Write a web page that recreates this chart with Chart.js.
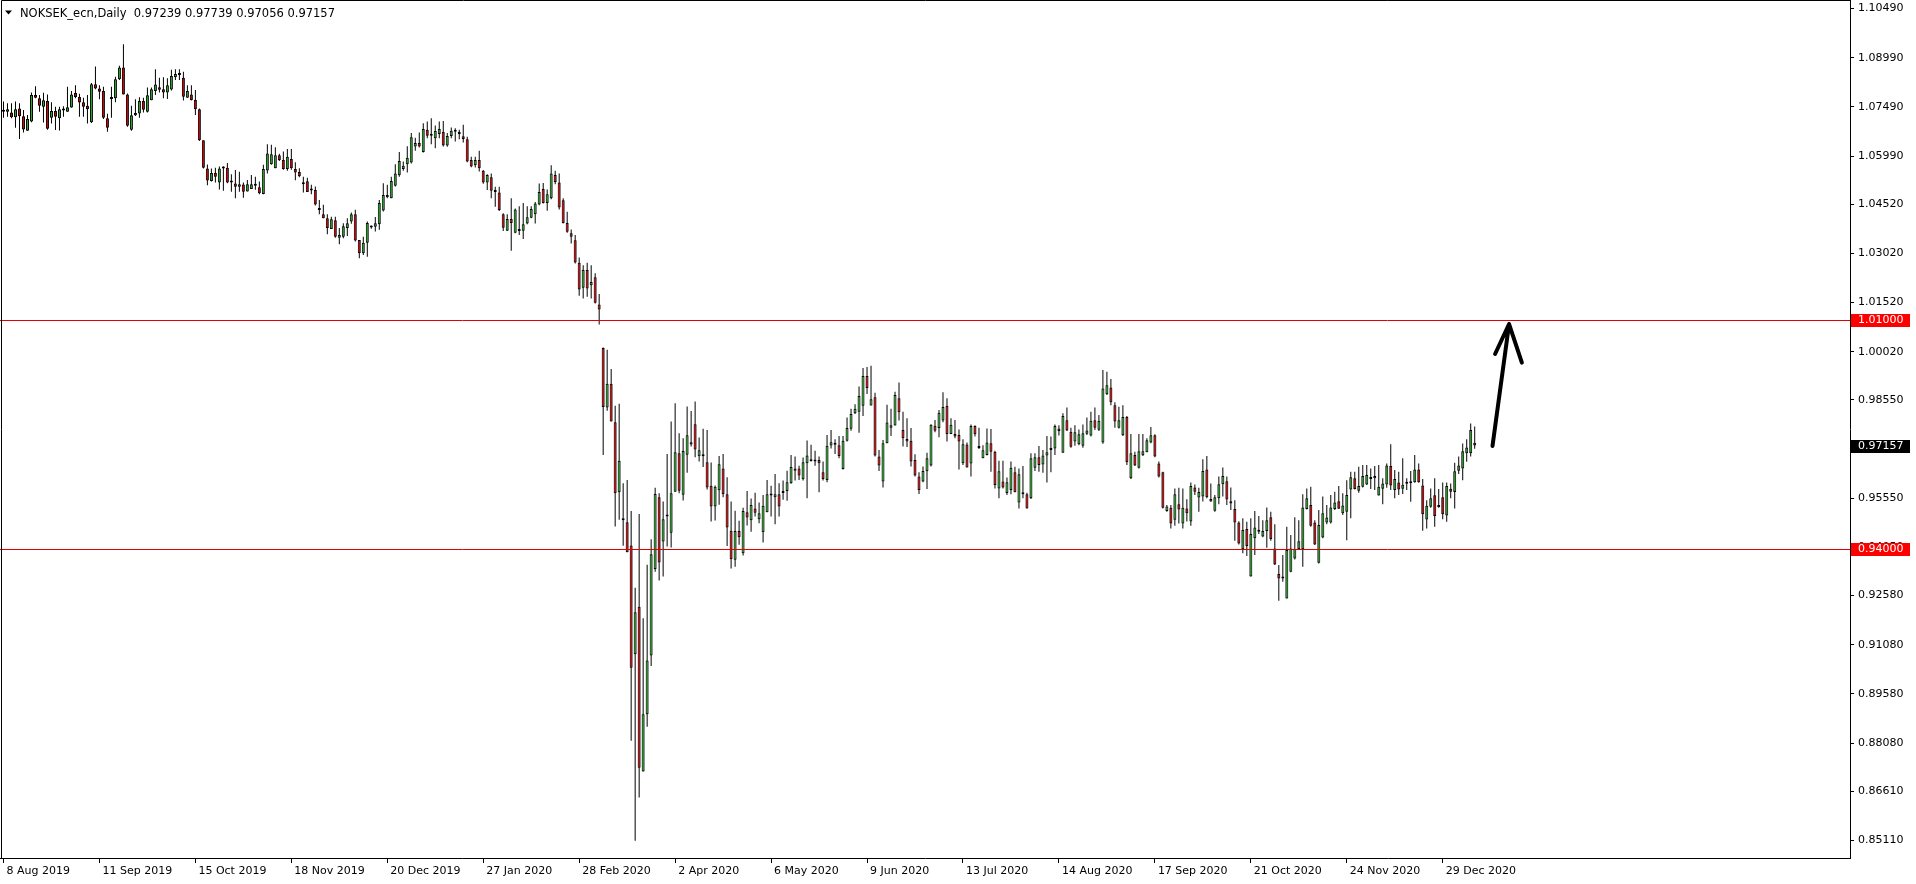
<!DOCTYPE html>
<html>
<head>
<meta charset="utf-8">
<script src="https://cdn.jsdelivr.net/npm/chart.js@4.4.0/dist/chart.umd.min.js"></script>
<style>
html,body{margin:0;padding:0;background:#fff;overflow:hidden;}
canvas{display:block;}
</style>
</head>
<body>
<canvas id="c" width="1916" height="884"></canvas>
<script>
// ---- data (daily NOKSEK_ecn candles, index 0 = 8 Aug 2019) ----
const opens = [
1.0734,1.0734,1.0732,1.0717,1.0744,1.0720,1.0676,1.0704,1.0785,1.0775,
1.0749,1.0767,1.0716,1.0736,1.0714,1.0742,1.0734,1.0747,1.0791,1.0779,
1.0763,1.0752,1.0702,1.0818,1.0805,1.0797,1.0714,1.0773,1.0775,1.0833,
1.0869,1.0787,1.0679,1.0723,1.0729,1.0767,1.0734,1.0769,1.0797,1.0809,
1.0803,1.0793,1.0802,1.0839,1.0848,1.0838,1.0777,1.0787,1.0770,1.0742,
1.0647,1.0561,1.0523,1.0547,1.0518,1.0561,1.0563,1.0520,1.0515,1.0505,
1.0512,1.0491,1.0498,1.0511,1.0504,1.0483,1.0555,1.0574,1.0562,1.0601,
1.0587,1.0559,1.0590,1.0559,1.0550,1.0513,1.0522,1.0499,1.0495,1.0436,
1.0421,1.0409,1.0376,1.0403,1.0350,1.0353,1.0379,1.0399,1.0421,1.0343,
1.0302,1.0334,1.0384,1.0383,1.0391,1.0433,1.0480,1.0470,1.0508,1.0540,
1.0559,1.0574,1.0579,1.0628,1.0639,1.0611,1.0679,1.0667,1.0653,1.0666,
1.0672,1.0631,1.0660,1.0676,1.0668,1.0659,1.0650,1.0587,1.0571,1.0587,
1.0554,1.0518,1.0534,1.0491,1.0488,1.0421,1.0371,1.0407,1.0365,1.0372,
1.0371,1.0393,1.0411,1.0421,1.0451,1.0498,1.0456,1.0470,1.0541,1.0518,
1.0464,1.0395,1.0363,1.0342,1.0273,1.0197,1.0251,1.0205,1.0229,1.0146,
1.0013,0.9832,0.9904,0.9787,0.9573,0.9491,0.9482,0.9411,0.9079,0.9224,
0.8721,0.8896,0.9075,0.9339,0.9558,0.9423,0.9499,0.9450,0.9575,0.9692,
0.9566,0.9688,0.9719,0.9781,0.9683,0.9683,0.9665,0.9593,0.9530,0.9579,
0.9646,0.9567,0.9456,0.9367,0.9455,0.9387,0.9512,0.9488,0.9524,0.9491,
0.9451,0.9512,0.9565,0.9558,0.9567,0.9571,0.9577,0.9601,0.9639,0.9646,
0.9613,0.9662,0.9668,0.9669,0.9672,0.9634,0.9611,0.9716,0.9720,0.9717,
0.9644,0.9730,0.9767,0.9814,0.9819,0.9837,0.9928,0.9838,0.9863,0.9682,
0.9606,0.9723,0.9770,0.9777,0.9860,0.9763,0.9736,0.9730,0.9672,0.9621,
0.9606,0.9637,0.9655,0.9776,0.9769,0.9792,0.9837,0.9751,0.9751,0.9748,
0.9662,0.9719,0.9661,0.9775,0.9710,0.9677,0.9687,0.9723,0.9697,0.9585,
0.9606,0.9571,0.9580,0.9634,0.9542,0.9570,0.9567,0.9555,0.9648,0.9680,
0.9658,0.9685,0.9702,0.9707,0.9768,0.9694,0.9793,0.9758,0.9728,0.9720,
0.9715,0.9752,0.9746,0.9793,0.9764,0.9725,0.9872,0.9893,0.9839,0.9770,
0.9747,0.9803,0.9616,0.9687,0.9648,0.9686,0.9695,0.9725,0.9747,0.9661,
0.9634,0.9516,0.9526,0.9489,0.9537,0.9478,0.9524,0.9484,0.9588,0.9557,
0.9560,0.9643,0.9553,0.9517,0.9555,0.9598,0.9607,0.9546,0.9522,0.9481,
0.9399,0.9461,0.9316,0.9433,0.9456,0.9438,0.9455,0.9497,0.9402,0.9324,
0.9310,0.9249,0.9331,0.9371,0.9400,0.9399,0.9522,0.9534,0.9481,0.9358,
0.9435,0.9481,0.9481,0.9522,0.9546,0.9509,0.9514,0.9582,0.9616,0.9578,
0.9590,0.9597,0.9614,0.9616,0.9563,0.9584,0.9597,0.9653,0.9580,0.9603,
0.9584,0.9599,0.9601,0.9604,0.9643,0.9594,0.9490,0.9529,0.9564,0.9528,
0.9558,0.9502,0.9584,0.9574,0.9639,0.9646,0.9692,0.9692,0.97239
];
const highs = [
1.0765,1.0760,1.0760,1.0765,1.0760,1.0739,1.0724,1.0793,1.0812,1.0785,
1.0792,1.0787,1.0763,1.0749,1.0749,1.0751,1.0810,1.0797,1.0815,1.0789,
1.0777,1.0785,1.0822,1.0872,1.0815,1.0810,1.0728,1.0810,1.0841,1.0874,
1.0940,1.0790,1.0752,1.0772,1.0778,1.0777,1.0808,1.0808,1.0864,1.0838,
1.0839,1.0836,1.0862,1.0864,1.0864,1.0856,1.0815,1.0815,1.0800,1.0744,
1.0647,1.0573,1.0561,1.0563,1.0567,1.0568,1.0578,1.0543,1.0556,1.0551,
1.0518,1.0526,1.0541,1.0536,1.0521,1.0572,1.0635,1.0633,1.0626,1.0606,
1.0613,1.0620,1.0620,1.0580,1.0562,1.0536,1.0533,1.0511,1.0506,1.0465,
1.0450,1.0421,1.0414,1.0414,1.0379,1.0394,1.0409,1.0427,1.0435,1.0343,
1.0353,1.0399,1.0387,1.0413,1.0465,1.0516,1.0511,1.0536,1.0574,1.0611,
1.0582,1.0629,1.0669,1.0655,1.0671,1.0699,1.0704,1.0714,1.0692,1.0704,
1.0706,1.0669,1.0686,1.0684,1.0679,1.0694,1.0658,1.0597,1.0597,1.0615,
1.0556,1.0543,1.0546,1.0505,1.0505,1.0424,1.0421,1.0470,1.0439,1.0446,
1.0456,1.0446,1.0446,1.0459,1.0515,1.0517,1.0497,1.0571,1.0554,1.0546,
1.0470,1.0429,1.0375,1.0358,1.0289,1.0266,1.0273,1.0266,1.0241,1.0178,
1.0015,1.0008,0.9949,0.9837,0.9843,0.9601,0.9611,0.9516,0.9282,0.9507,
0.9189,0.9352,0.9430,0.9587,0.9570,0.9545,0.9690,0.9789,0.9845,0.9753,
0.9738,0.9835,0.9821,0.9850,0.9740,0.9767,0.9763,0.9664,0.9594,0.9684,
0.9690,0.9619,0.9545,0.9517,0.9486,0.9526,0.9577,0.9554,0.9572,0.9542,
0.9565,0.9611,0.9593,0.9629,0.9601,0.9609,0.9639,0.9687,0.9682,0.9654,
0.9679,0.9731,0.9718,0.9700,0.9682,0.9667,0.9748,0.9763,0.9735,0.9745,
0.9745,0.9801,0.9828,0.9842,0.9896,0.9952,0.9955,0.9959,0.9877,0.9702,
0.9733,0.9840,0.9828,0.9880,0.9908,0.9819,0.9799,0.9769,0.9689,0.9634,
0.9652,0.9694,0.9781,0.9794,0.9824,0.9878,0.9860,0.9799,0.9794,0.9765,
0.9735,0.9725,0.9780,0.9778,0.9770,0.9717,0.9768,0.9766,0.9700,0.9669,
0.9669,0.9618,0.9667,0.9651,0.9646,0.9653,0.9572,0.9692,0.9692,0.9714,
0.9702,0.9745,0.9743,0.9780,0.9778,0.9814,0.9832,0.9770,0.9778,0.9765,
0.9780,0.9801,0.9819,0.9832,0.9809,0.9946,0.9941,0.9919,0.9848,0.9834,
0.9839,0.9806,0.9751,0.9697,0.9751,0.9751,0.9738,0.9772,0.9750,0.9667,
0.9636,0.9534,0.9534,0.9585,0.9587,0.9585,0.9552,0.9603,0.9597,0.9587,
0.9674,0.9684,0.9600,0.9565,0.9621,0.9649,0.9621,0.9588,0.9549,0.9485,
0.9494,0.9483,0.9494,0.9516,0.9501,0.9488,0.9527,0.9514,0.9476,0.9351,
0.9382,0.9468,0.9443,0.9497,0.9488,0.9567,0.9585,0.9590,0.9488,0.9519,
0.9560,0.9534,0.9565,0.9575,0.9592,0.9570,0.9610,0.9636,0.9636,0.9651,
0.9656,0.9656,0.9646,0.9653,0.9656,0.9616,0.9661,0.9720,0.9641,0.9636,
0.9677,0.9616,0.9638,0.9687,0.9661,0.9614,0.9549,0.9585,0.9616,0.9583,
0.9603,0.9603,0.9600,0.9663,0.9682,0.9722,0.9735,0.9783,0.97739
];
const lows = [
1.0716,1.0719,1.0714,1.0685,1.0651,1.0671,1.0676,1.0702,1.0775,1.0734,
1.0701,1.0679,1.0698,1.0678,1.0677,1.0719,1.0734,1.0746,1.0775,1.0719,
1.0719,1.0698,1.0700,1.0803,1.0772,1.0712,1.0673,1.0716,1.0763,1.0831,
1.0787,1.0688,1.0676,1.0721,1.0716,1.0732,1.0732,1.0769,1.0785,1.0793,
1.0775,1.0773,1.0799,1.0831,1.0831,1.0768,1.0777,1.0768,1.0724,1.0645,
1.0561,1.0510,1.0521,1.0518,1.0497,1.0493,1.0516,1.0490,1.0470,1.0490,
1.0472,1.0491,1.0498,1.0496,1.0482,1.0482,1.0546,1.0572,1.0562,1.0584,
1.0557,1.0554,1.0557,1.0525,1.0534,1.0488,1.0489,1.0482,1.0448,1.0421,
1.0409,1.0360,1.0376,1.0350,1.0330,1.0348,1.0355,1.0392,1.0338,1.0287,
1.0297,1.0292,1.0377,1.0369,1.0374,1.0430,1.0470,1.0470,1.0506,1.0536,
1.0554,1.0549,1.0576,1.0615,1.0625,1.0610,1.0653,1.0635,1.0623,1.0653,
1.0628,1.0627,1.0653,1.0643,1.0650,1.0640,1.0580,1.0565,1.0564,1.0552,
1.0514,1.0495,1.0470,1.0444,1.0431,1.0370,1.0370,1.0310,1.0363,1.0358,
1.0346,1.0391,1.0409,1.0393,1.0449,1.0454,1.0432,1.0467,1.0513,1.0436,
1.0393,1.0365,1.0332,1.0271,1.0173,1.0164,1.0170,1.0164,1.0149,1.0085,
0.9687,0.9822,0.9789,0.9469,0.9489,0.9410,0.9390,0.8815,0.8510,0.8642,
0.8721,0.8858,0.9043,0.9331,0.9304,0.9316,0.9408,0.9405,0.9575,0.9570,
0.9548,0.9633,0.9713,0.9680,0.9667,0.9650,0.9582,0.9484,0.9487,0.9535,
0.9558,0.9409,0.9341,0.9346,0.9413,0.9380,0.9472,0.9453,0.9499,0.9479,
0.9420,0.9512,0.9499,0.9476,0.9499,0.9550,0.9547,0.9599,0.9609,0.9611,
0.9609,0.9555,0.9667,0.9654,0.9573,0.9609,0.9604,0.9707,0.9690,0.9677,
0.9643,0.9728,0.9761,0.9812,0.9755,0.9806,0.9873,0.9838,0.9682,0.9638,
0.9588,0.9723,0.9745,0.9777,0.9792,0.9713,0.9711,0.9652,0.9621,0.9568,
0.9604,0.9583,0.9652,0.9756,0.9741,0.9787,0.9728,0.9751,0.9738,0.9643,
0.9656,0.9649,0.9621,0.9743,0.9705,0.9677,0.9685,0.9636,0.9585,0.9555,
0.9585,0.9565,0.9567,0.9573,0.9524,0.9555,0.9524,0.9553,0.9638,0.9636,
0.9633,0.9603,0.9634,0.9687,0.9746,0.9694,0.9760,0.9709,0.9715,0.9717,
0.9709,0.9748,0.9743,0.9763,0.9760,0.9721,0.9870,0.9839,0.9770,0.9768,
0.9745,0.9656,0.9614,0.9653,0.9646,0.9684,0.9695,0.9723,0.9680,0.9618,
0.9524,0.9514,0.9463,0.9471,0.9478,0.9463,0.9484,0.9471,0.9565,0.9514,
0.9545,0.9555,0.9544,0.9514,0.9537,0.9560,0.9534,0.9519,0.9425,0.9414,
0.9387,0.9379,0.9316,0.9382,0.9446,0.9436,0.9404,0.9425,0.9351,0.9242,
0.9300,0.9249,0.9329,0.9368,0.9399,0.9346,0.9521,0.9468,0.9412,0.9356,
0.9433,0.9476,0.9478,0.9519,0.9522,0.9504,0.9427,0.9494,0.9582,0.9572,
0.9588,0.9595,0.9583,0.9580,0.9563,0.9537,0.9587,0.9580,0.9555,0.9565,
0.9568,0.9580,0.9544,0.9602,0.9602,0.9456,0.9463,0.9526,0.9468,0.9526,
0.9491,0.9483,0.9555,0.9524,0.9629,0.9610,0.9666,0.9682,0.97056
];
const closes = [
1.0740,1.0742,1.0717,1.0742,1.0720,1.0680,1.0712,1.0785,1.0777,1.0752,
1.0769,1.0682,1.0736,1.0719,1.0742,1.0738,1.0748,1.0787,1.0779,1.0762,
1.0749,1.0742,1.0818,1.0805,1.0795,1.0716,1.0685,1.0775,1.0833,1.0869,
1.0787,1.0691,1.0723,1.0730,1.0767,1.0740,1.0784,1.0803,1.0817,1.0801,
1.0793,1.0815,1.0843,1.0849,1.0846,1.0780,1.0797,1.0770,1.0742,1.0647,
1.0563,1.0524,1.0547,1.0536,1.0561,1.0564,1.0518,1.0518,1.0505,1.0513,
1.0490,1.0513,1.0513,1.0508,1.0485,1.0559,1.0607,1.0604,1.0601,1.0587,
1.0559,1.0597,1.0562,1.0549,1.0537,1.0519,1.0489,1.0494,1.0451,1.0434,
1.0409,1.0379,1.0406,1.0353,1.0358,1.0385,1.0394,1.0421,1.0341,1.0302,
1.0334,1.0395,1.0381,1.0394,1.0456,1.0480,1.0473,1.0523,1.0546,1.0584,
1.0569,1.0594,1.0656,1.0639,1.0628,1.0681,1.0661,1.0661,1.0675,1.0681,
1.0631,1.0660,1.0676,1.0673,1.0666,1.0651,1.0582,1.0567,1.0587,1.0562,
1.0518,1.0541,1.0493,1.0489,1.0434,1.0380,1.0407,1.0395,1.0436,1.0370,
1.0391,1.0412,1.0437,1.0454,1.0489,1.0456,1.0482,1.0546,1.0520,1.0442,
1.0395,1.0368,1.0353,1.0274,1.0192,1.0251,1.0195,1.0215,1.0151,1.0131,
0.9833,0.9904,0.9789,0.9570,0.9669,0.9488,0.9390,0.9038,0.9207,0.8733,
0.8896,0.9060,0.9384,0.9568,0.9359,0.9491,0.9501,0.9570,0.9695,0.9578,
0.9699,0.9747,0.9726,0.9704,0.9701,0.9689,0.9588,0.9530,0.9590,0.9659,
0.9567,0.9466,0.9369,0.9455,0.9436,0.9516,0.9496,0.9534,0.9511,0.9509,
0.9532,0.9567,0.9563,0.9567,0.9530,0.9573,0.9604,0.9650,0.9646,0.9624,
0.9665,0.9685,0.9670,0.9667,0.9662,0.9614,0.9715,0.9726,0.9718,0.9684,
0.9730,0.9769,0.9812,0.9828,0.9867,0.9928,0.9891,0.9857,0.9685,0.9655,
0.9723,0.9786,0.9778,0.9870,0.9817,0.9738,0.9728,0.9667,0.9624,0.9580,
0.9638,0.9677,0.9779,0.9761,0.9816,0.9833,0.9751,0.9779,0.9743,0.9728,
0.9720,0.9649,0.9775,0.9750,0.9708,0.9701,0.9725,0.9697,0.9595,0.9637,
0.9588,0.9604,0.9648,0.9573,0.9628,0.9567,0.9524,0.9677,0.9680,0.9656,
0.9685,0.9695,0.9704,0.9775,0.9760,0.9806,0.9762,0.9712,0.9756,0.9750,
0.9753,0.9762,0.9791,0.9770,0.9791,0.9890,0.9900,0.9848,0.9789,0.9793,
0.9803,0.9665,0.9692,0.9655,0.9698,0.9698,0.9732,0.9747,0.9682,0.9621,
0.9526,0.9530,0.9478,0.9567,0.9521,0.9526,0.9509,0.9592,0.9575,0.9574,
0.9638,0.9558,0.9545,0.9558,0.9598,0.9623,0.9551,0.9539,0.9481,0.9417,
0.9458,0.9409,0.9446,0.9466,0.9453,0.9455,0.9488,0.9431,0.9353,0.9310,
0.9311,0.9397,0.9402,0.9400,0.9424,0.9527,0.9555,0.9471,0.9414,0.9473,
0.9509,0.9496,0.9527,0.9542,0.9523,0.9533,0.9565,0.9619,0.9583,0.9592,
0.9623,0.9626,0.9616,0.9623,0.9590,0.9600,0.9655,0.9594,0.9614,0.9582,
0.9596,0.9600,0.9603,0.9643,0.9604,0.9506,0.9532,0.9555,0.9501,0.9529,
0.9506,0.9592,0.9575,0.9637,0.9655,0.9698,0.9710,0.9763,0.97157
];

// x-axis date labels and the bar index where each one sits
const tickLabels = ["8 Aug 2019","11 Sep 2019","15 Oct 2019","18 Nov 2019","20 Dec 2019","27 Jan 2020","28 Feb 2020","2 Apr 2020","6 May 2020","9 Jun 2020","13 Jul 2020","14 Aug 2020","17 Sep 2020","21 Oct 2020","24 Nov 2020","29 Dec 2020"];
const tickIndex = [0,24,48,72,96,120,144,168,192,216,240,264,288,312,336,360];

// price-axis tick values
const yTickValues = [1.1049,1.0899,1.0749,1.0599,1.0452,1.0302,1.0152,1.0002,0.9855,0.9705,0.9555,0.9405,0.9258,0.9108,0.8958,0.8808,0.8661,0.8511];

// horizontal levels, last price, header
const levelLines = [1.01, 0.94];
const lastPrice = 0.97157;
const headerText = "NOKSEK_ecn,Daily  0.97239 0.97739 0.97056 0.97157";

// hand-drawn arrow (bar index, price)
const arrowShaft = [[372.45, 0.97143], [376.6, 1.00865]];
const arrowHeadLeft = [373.1, 0.99950];
const arrowHeadRight = [379.8, 0.99685];

// ---- chart ----
const GREEN = '#2aae2a';
const RED = '#e00000';
const LEVEL = '#e00000';
const FONT = '"DejaVu Sans", Verdana, sans-serif';

const wickData = opens.map((o, i) => ({x: i, y: [lows[i], highs[i]]}));
const bodyData = opens.map((o, i) => ({x: i, y: [o, closes[i]]}));
const bodyColors = opens.map((o, i) => closes[i] >= o ? GREEN : RED);

const overlay = {
  id: 'overlay',
  afterDatasetsDraw(chart) {
    const {ctx, chartArea: a, scales: {x, y}} = chart;
    ctx.save();
    ctx.beginPath();
    ctx.rect(a.left, a.top, a.right - a.left, a.bottom - a.top);
    ctx.clip();
    // level lines
    ctx.strokeStyle = LEVEL;
    ctx.lineWidth = 1;
    levelLines.forEach(v => {
      const py = Math.round(y.getPixelForValue(v)) + 0.5;
      ctx.beginPath();
      ctx.moveTo(a.left, py);
      ctx.lineTo(a.right, py);
      ctx.stroke();
    });
    // arrow
    const P = p => [x.getPixelForValue(p[0]), y.getPixelForValue(p[1])];
    const s0 = P(arrowShaft[0]), s1 = P(arrowShaft[1]);
    const hl = P(arrowHeadLeft), hr = P(arrowHeadRight);
    ctx.strokeStyle = '#000';
    ctx.lineWidth = 4;
    ctx.lineCap = 'round';
    ctx.lineJoin = 'round';
    ctx.beginPath();
    ctx.moveTo(s0[0], s0[1]);
    ctx.lineTo(s1[0], s1[1]);
    ctx.moveTo(hl[0], hl[1]);
    ctx.lineTo(s1[0], s1[1]);
    ctx.lineTo(hr[0], hr[1]);
    ctx.stroke();
    ctx.restore();
  },
  afterDraw(chart) {
    const {ctx, chartArea: a, scales: {y}} = chart;
    ctx.save();
    // frame left/top
    ctx.strokeStyle = '#000';
    ctx.lineWidth = 1;
    ctx.beginPath();
    ctx.moveTo(1.5, a.bottom);
    ctx.lineTo(1.5, 0.5);
    ctx.lineTo(a.right, 0.5);
    ctx.stroke();
    // header
    ctx.fillStyle = '#000';
    ctx.beginPath();
    ctx.moveTo(5, 10.5);
    ctx.lineTo(12, 10.5);
    ctx.lineTo(8.5, 14.5);
    ctx.closePath();
    ctx.fill();
    ctx.font = '11.5px ' + FONT;
    ctx.textBaseline = 'alphabetic';
    ctx.textAlign = 'left';
    ctx.fillText(headerText, 20, 17);
    // price boxes on the axis
    ctx.font = '11px ' + FONT;
    const box = (v, bg, txt) => {
      const py = Math.round(y.getPixelForValue(v));
      ctx.fillStyle = bg;
      ctx.fillRect(a.right + 1, py - 6, 59, 13);
      ctx.fillStyle = '#fff';
      ctx.textBaseline = 'middle';
      ctx.fillText(txt, a.right + 8, py + 0.5);
    };
    levelLines.forEach(v => box(v, '#ff0000', v.toFixed(5)));
    box(lastPrice, '#000', lastPrice.toFixed(5));
    ctx.restore();
  }
};

new Chart(document.getElementById('c'), {
  type: 'bar',
  data: {
    datasets: [
      {
        label: 'body', data: bodyData, order: 0,
        backgroundColor: bodyColors, borderColor: '#000', borderWidth: 1,
        borderSkipped: false, barThickness: 3, minBarLength: 2,
        grouped: false, inflateAmount: 0
      },
      {
        label: 'wick', data: wickData, order: 1,
        backgroundColor: '#000', borderWidth: 0,
        barThickness: 1, grouped: false, inflateAmount: 0
      }
    ]
  },
  options: {
    responsive: false,
    animation: false,
    devicePixelRatio: 1,
    layout: {padding: 0, autoPadding: false},
    plugins: {legend: {display: false}, tooltip: {enabled: false}, title: {display: false}},
    scales: {
      x: {
        type: 'linear', position: 'bottom',
        min: -0.875, max: 461.875, offset: false,
        grid: {display: true, drawOnChartArea: false, drawTicks: true, tickLength: 5, color: '#000', offset: false},
        border: {display: true, color: '#000', width: 1},
        afterBuildTicks: s => { s.ticks = tickIndex.map(v => ({value: v})); },
        ticks: {
          autoSkip: false, maxRotation: 0, minRotation: 0, align: 'start', labelOffset: 3, padding: 2,
          color: '#000', font: {family: FONT, size: 11},
          callback: (v, i) => tickLabels[i]
        },
        afterFit: s => { s.height = 26; s.paddingLeft = 0; s.paddingRight = 0; }
      },
      y: {
        type: 'linear', position: 'right',
        min: 0.84575, max: 1.10749,
        grid: {display: true, drawOnChartArea: false, drawTicks: true, tickLength: 4, color: '#000'},
        border: {display: true, color: '#000', width: 1},
        afterBuildTicks: s => { s.ticks = yTickValues.map(v => ({value: v})); },
        ticks: {
          padding: 4, color: '#000', font: {family: FONT, size: 11},
          callback: v => Number(v).toFixed(5)
        },
        afterFit: s => { s.width = 66; s.paddingTop = 0; s.paddingBottom = 0; }
      }
    }
  },
  plugins: [overlay]
});
</script>
</body>
</html>
